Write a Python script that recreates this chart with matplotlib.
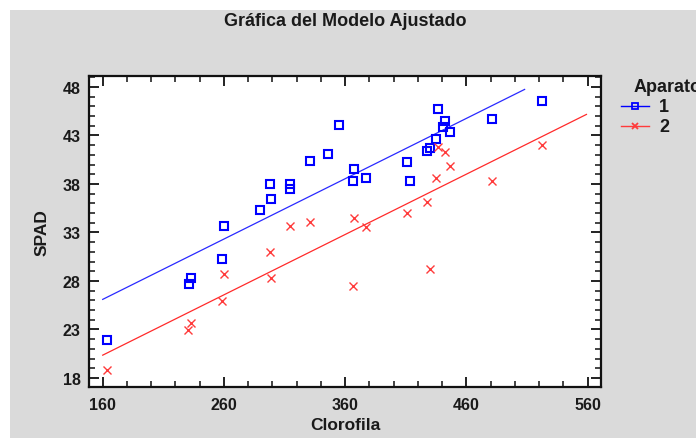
import matplotlib
matplotlib.use('Agg')
import matplotlib.pyplot as plt
from matplotlib.lines import Line2D
from matplotlib.patches import Rectangle
from matplotlib.ticker import MultipleLocator

# Aparato 1
clorofila_1 = [163.5, 231.1, 233.0, 258.6, 259.8, 289.9, 297.6, 298.7, 314.4, 314.4,
               331.2, 345.7, 354.8, 366.1, 366.9, 377.3, 410.9, 413.1, 427.6, 429.8,
               434.5, 436.4, 440.8, 442.2, 446.6, 481.2, 522.4]
spad_1 = [21.9, 27.7, 28.3, 30.3, 33.7, 35.3, 38.0, 36.5, 38.0, 37.5,
          40.4, 41.1, 44.1, 38.3, 39.5, 38.6, 40.3, 38.3, 41.4, 41.7,
          42.6, 45.7, 43.9, 44.5, 43.4, 44.7, 46.6]

# Aparato 2
clorofila_2 = [163.3, 230.6, 233.0, 258.6, 259.8, 297.6, 298.7, 314.4, 331.2, 366.1,
               366.9, 377.3, 410.9, 427.6, 429.8, 434.5, 436.4, 442.2, 446.6, 481.2,
               522.4]
spad_2 = [18.8, 22.9, 23.7, 25.9, 28.7, 31.0, 28.3, 33.7, 34.1, 27.5,
          34.5, 33.6, 35.0, 36.1, 29.2, 38.6, 41.8, 41.3, 39.9, 38.3,
          42.0]

# modelo ajustado: pendiente comun, un intercepto por aparato
pendiente = 0.0622
intercepto_1 = 16.15
intercepto_2 = 10.40
rango_1 = [160, 508]
rango_2 = [160, 559]

plt.rcParams['font.family'] = ['Liberation Sans', 'DejaVu Sans']
narrow = ['Liberation Sans Narrow', 'Liberation Sans', 'DejaVu Sans']

W, H = 696, 439
fig = plt.figure(figsize=(W / 100, H / 100), dpi=100, facecolor='white')
gris = '#dadada'
fig.patches.append(Rectangle((10 / W, 0), 1 - 10 / W, 1 - 11 / H,
                             transform=fig.transFigure, facecolor=gris,
                             edgecolor='none', zorder=-10))

ax = fig.add_axes([89 / W, 1 - 388 / H, 512 / W, 311 / H])
ax.set_facecolor('white')

azul = '#0000ff'
rojo = '#ff3b3b'

ax.plot(rango_1, [intercepto_1 + pendiente * x for x in rango_1], color='#2a2aff', lw=0.9)
ax.plot(rango_2, [intercepto_2 + pendiente * x for x in rango_2], color='#ff2a2a', lw=0.9)
ax.plot(clorofila_1, spad_1, ls='none', marker='s', ms=5.5, mfc='none', mec=azul, mew=1.5)
ax.plot(clorofila_2, spad_2, ls='none', marker='x', ms=6, mec=rojo, mew=1.0)

ax.set_xlim(148.7, 571)
ax.set_ylim(17.07, 49.13)
ax.xaxis.set_major_locator(MultipleLocator(100))
ax.xaxis.set_minor_locator(MultipleLocator(20))
ax.yaxis.set_major_locator(MultipleLocator(5))
ax.yaxis.set_minor_locator(MultipleLocator(1))
ax.set_xticks([160, 260, 360, 460, 560])
ax.set_yticks([18, 23, 28, 33, 38, 43, 48])

for s in ax.spines.values():
    s.set_linewidth(1.6)
    s.set_color('#111111')
ax.tick_params(which='both', direction='in', top=True, right=True, color='#111111')
ax.tick_params(which='major', length=7, width=1.3)
ax.tick_params(which='minor', length=4, width=1.1)
ax.tick_params(axis='x', which='major', pad=7)
ax.tick_params(axis='y', which='major', pad=6)
for lab in ax.get_xticklabels() + ax.get_yticklabels():
    lab.set_fontweight('bold')
    lab.set_fontsize(11.5)
    lab.set_color('#1a1a1a')

ax.set_xlabel('Clorofila', fontsize=12.5, fontweight='bold', color='#1a1a1a', va='center')
ax.set_ylabel('SPAD', fontsize=12.5, fontweight='bold', color='#1a1a1a', va='center')
ax.xaxis.set_label_coords(0.5, (388 - 426) / 311)
ax.yaxis.set_label_coords((42.5 - 89) / 512, 0.5)

fig.text((89 + 601) / 2 / W, 1 - 22 / H, 'Gráfica del Modelo Ajustado',
         ha='center', va='center', fontsize=13, fontweight='bold',
         family=narrow, color='#1a1a1a')

# leyenda
fig.text(634 / W, 1 - 88 / H, 'Aparato', ha='left', va='center', fontsize=13,
         fontweight='bold', family=narrow, color='#1a1a1a')
for yy, etiqueta, c, m in [(107, '1', azul, 's'), (127, '2', rojo, 'x')]:
    y = 1 - yy / H
    fig.add_artist(Line2D([621 / W, 649 / W], [y, y], color=c, lw=1.0,
                          transform=fig.transFigure))
    fig.add_artist(Line2D([635 / W], [y], color=c, marker=m, ms=5,
                          mfc='none', mec=c, mew=1.3, transform=fig.transFigure))
    fig.text(659 / W, y, etiqueta, ha='left', va='center', fontsize=13,
             fontweight='bold', color='#1a1a1a')

fig.savefig('out.png', dpi=100, facecolor='white')
